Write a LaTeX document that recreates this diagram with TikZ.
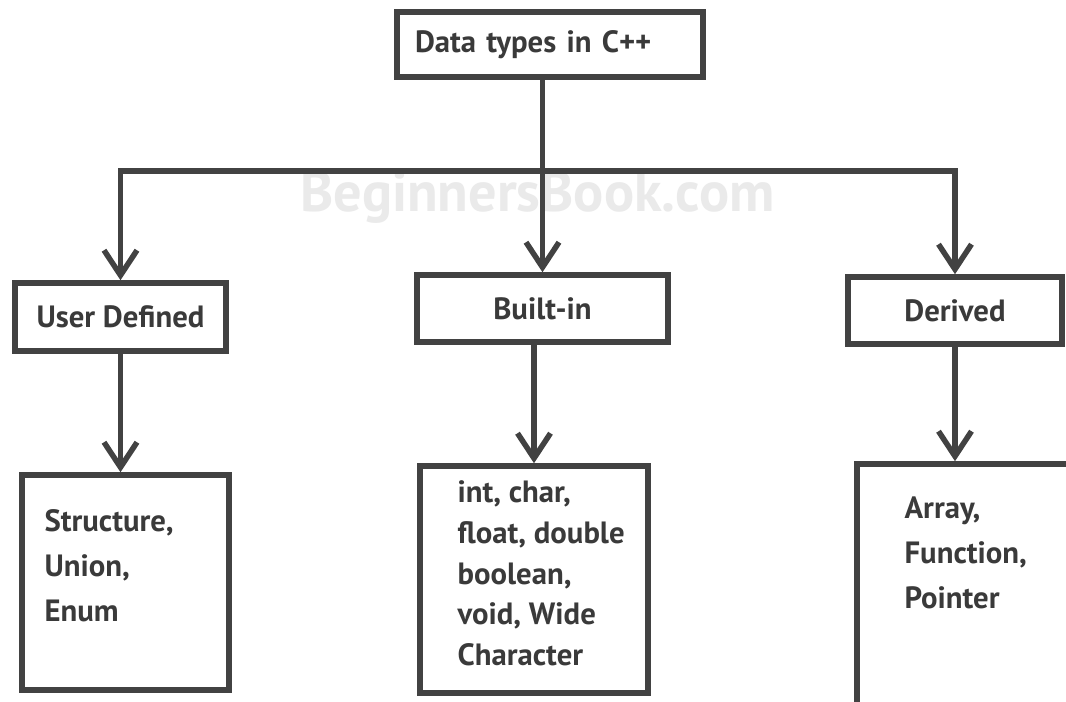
\documentclass[tikz,border=0pt]{standalone}
\usepackage{fontspec}
\setmainfont{PT Sans}
\usepackage{tikz}
\usetikzlibrary{arrows.meta, positioning}
\definecolor{linegray}{RGB}{66, 66, 66}
\definecolor{textgray}{RGB}{58, 58, 58}
\definecolor{markgray}{RGB}{234, 234, 234}
\tikzset{
  box/.style={rectangle, draw=linegray, line width=0.11cm, fill=white,
    text=textgray, font=\fontsize{17.5}{21}\selectfont\bfseries,
    inner sep=0pt, align=center},
  listtext/.style={inner sep=0pt, align=left, text=textgray,
    font=\fontsize{17.5}{25.6}\selectfont\bfseries},
  arrow/.style={draw=linegray, line width=0.11cm,
    -{Straight Barb[length=0.5cm, width=0.66cm]}}
}

\begin{document}
\begin{tikzpicture}
\path[use as bounding box, fill=white] (0,0) rectangle (21.32,-14.04);
\clip (0,0) rectangle (21.32,-14.04);

\node (mark) [text=markgray, font=\fontsize{32}{32}\selectfont\bfseries]
  at (10.75,-3.95) {BeginnersBook.com};

\node (dt)  [box, minimum height=1.30cm, text width=5.40cm, inner xsep=0.36cm,
  align=left] at (11.00,-0.89) {Data types in C++};
\node (ud)  [box, minimum width=4.22cm, minimum height=1.36cm] at (2.41,-6.34)  {User Defined};
\node (bi)  [box, minimum width=5.02cm, minimum height=1.34cm] at (10.85,-6.17) {Built-in};
\node (dv)  [box, minimum width=4.28cm, minimum height=1.34cm] at (19.10,-6.21) {Derived};

\node (udl) [box, minimum width=4.14cm, minimum height=4.30cm] at (2.51,-11.65)  {};
\node (bil) [box, minimum width=4.56cm, minimum height=4.54cm] at (10.68,-11.59) {};
\node (dvl) [box, minimum width=4.66cm, minimum height=5.12cm] at (19.47,-11.84) {};

\node (udt) [listtext, below right=0.74cm and 0.50cm of udl.north west]
  {Structure,\\Union,\\Enum};
\node (bit) [listtext, below right=0.34cm and 0.80cm of bil.north west,
  font=\fontsize{17.5}{23.2}\selectfont\bfseries]
  {int, char,\\float, double\\boolean,\\void, Wide\\Character};
\node (dvt) [listtext, below right=0.70cm and 1.00cm of dvl.north west]
  {Array,\\Function,\\Pointer};

\coordinate (split) at (10.85,-3.42);

\draw[arrow] (dt.south -| bi.north) -- (bi.north);
\draw[arrow] (split) -| (ud.north);
\draw[arrow] (split) -| (dv.north);
\draw[arrow] (ud.south) -- (ud.south |- udl.north);
\draw[arrow] (bil.north |- bi.south) -- (bil.north);
\draw[arrow] (dv.south) -- (dv.south |- dvl.north);
\end{tikzpicture}
\end{document}
